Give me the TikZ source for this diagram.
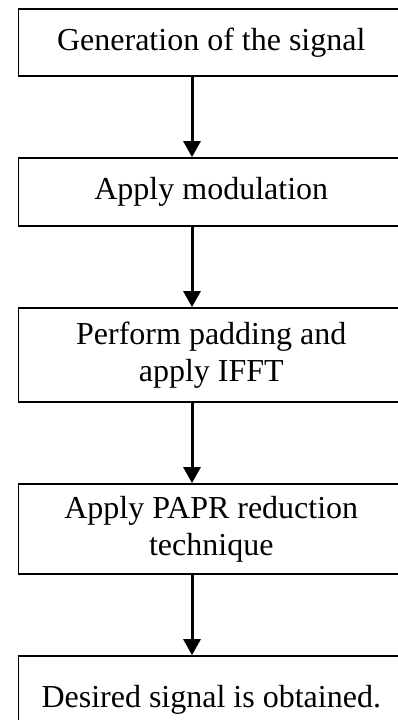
\documentclass[tikz,border=0pt]{standalone}
\usepackage{fontspec}
\setmainfont{Liberation Serif}
\usetikzlibrary{arrows.meta}
\begin{document}
\begin{tikzpicture}[x=1pt,y=-1pt,
  stepbox/.style={draw, line width=1.7pt, fill=white, minimum width=385.5pt,
    inner sep=0pt, align=center, font=\fontsize{32}{37}\selectfont},
  flow/.style={line width=3pt, -{Triangle[width=17pt,length=16pt]}}]
\useasboundingbox (0,0) rectangle (398,720);
\clip (0,0) rectangle (398,720);
% process steps
\node[stepbox, minimum height=67pt] (s1) at (211.25,42.2) {Generation of the signal};
\node[stepbox, minimum height=68pt] (s2) at (211.25,192) {Apply modulation};
\node[stepbox, minimum height=94pt] (s3) at (211.25,355) {Perform padding and\\apply IFFT};
\node[stepbox, minimum height=90pt] (s4) at (211.25,529) {Apply PAPR reduction\\technique};
\node[stepbox, minimum height=87pt] (s5) at (211.25,699.5) {Desired signal is obtained.};
% connectors run on a common vertical line
\coordinate (ax) at (192,0);
\draw[flow] (s1.south -| ax) -- (s2.north -| ax);
\draw[flow] (s2.south -| ax) -- (s3.north -| ax);
\draw[flow] (s3.south -| ax) -- (s4.north -| ax);
\draw[flow] (s4.south -| ax) -- (s5.north -| ax);
\end{tikzpicture}
\end{document}
